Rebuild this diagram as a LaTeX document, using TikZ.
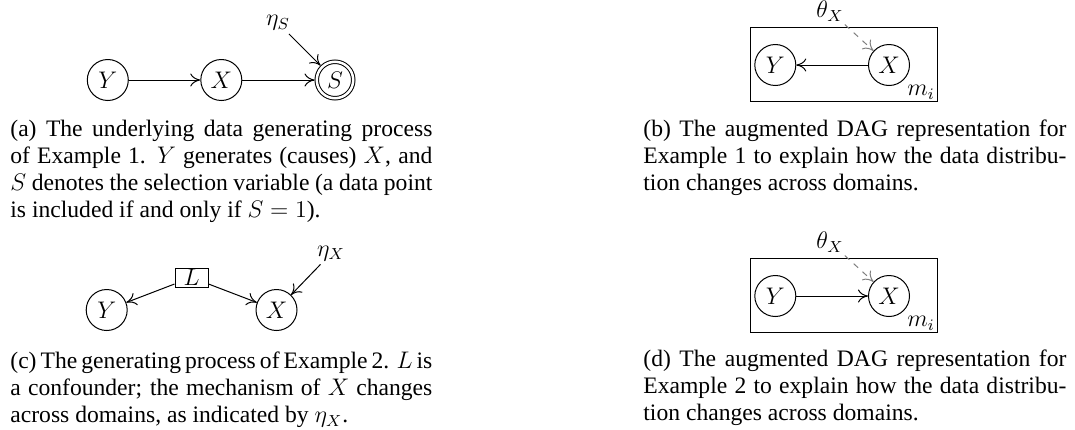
\documentclass[tikz,border=0pt]{standalone}
\usepackage{fontspec}
\setmainfont{Liberation Serif}
\usetikzlibrary{arrows.meta}
\begin{document}
\begin{tikzpicture}[x=0.5pt,y=-0.5pt,
  var/.style={circle,draw,line width=0.5pt,minimum size=20.5pt,inner sep=0pt,font=\fontsize{12}{14}\selectfont},
  lbl/.style={inner sep=1.5pt,font=\fontsize{12}{14}\selectfont},
  plate/.style={draw,line width=0.5pt,minimum width=93.5pt,minimum height=37.2pt,inner sep=0pt},
  edge/.style={-{To[length=5pt,width=6.5pt]},line width=0.5pt},
  dedge/.style={edge,gray,dashed},
  captxt/.style={anchor=base west,inner sep=0pt,font=\fontsize{11.8}{14}\selectfont},
]
\useasboundingbox (0,0) rectangle (1075,429);
% (a)
\node[var] (Ya) at (107.8,80) {$Y$};
\node[var] (Xa) at (221.3,80) {$X$};
\node[var,double,double distance=1.25pt,minimum size=18.25pt,outer sep=1.1pt] (Sa) at (335,80) {$S$};
\node[lbl] (etaS) at (278,23) {$\eta_S$};
\draw[edge] (Ya) -- (Xa);
\draw[edge] (Xa) -- (Sa);
\draw[edge] (etaS) -- (Sa);
% (b)
\node[plate] (plateB) at (843.5,64.5) {};
\node[var] (Yb) at (775.3,65) {$Y$};
\node[var] (Xb) at (889,65) {$X$};
\node[lbl] (thB) at (830,11) {$\theta_X$};
\node[lbl,anchor=base west,inner sep=0pt] (mB) at (907,95.5) {$m_i$};
\draw[edge] (Xb) -- (Yb);
\draw[dedge] (thB) -- (Xb);
% (c)
\node[var] (Yc) at (106.7,310) {$Y$};
\node[var] (Xc) at (276.5,310) {$X$};
\node[draw,line width=0.5pt,minimum width=16.5pt,minimum height=9.5pt,inner sep=0pt,font=\fontsize{12}{14}\selectfont] (Lc) at (191.5,277.5) {$L$};
\node[lbl] (etaX) at (331,253.5) {$\eta_X$};
\draw[edge] (Lc) -- (Yc);
\draw[edge] (Lc) -- (Xc);
\draw[edge] (etaX) -- (Xc);
% (d)
\node[plate] (plateD) at (843.5,295.5) {};
\node[var] (Yd) at (775.3,296) {$Y$};
\node[var] (Xd) at (889,296) {$X$};
\node[lbl] (thD) at (830,242) {$\theta_X$};
\node[lbl,anchor=base west,inner sep=0pt] (mD) at (907,326.5) {$m_i$};
\draw[edge] (Yd) -- (Xd);
\draw[dedge] (thD) -- (Xd);
% captions
\node[captxt] (ca1) at (10,136.7) {\makebox[211pt][s]{(a) The underlying data generating process}};
\node[captxt] (ca2) at (10,163.6) {\makebox[211pt][s]{of Example 1. $Y$ generates (causes) $X$, and}};
\node[captxt] (ca3) at (10,190.5) {\makebox[211pt][s]{$S$ denotes the selection variable (a data point}};
\node[captxt] (ca4) at (10,217.4) {is included if and only if $S=1$).};
\node[captxt] (cb1) at (643,136.7) {\makebox[211.5pt][s]{(b) The augmented DAG representation for}};
\node[captxt] (cb2) at (643,163.6) {\makebox[211.5pt][s]{Example 1 to explain how the data distribu-}};
\node[captxt] (cb3) at (643,190.5) {tion changes across domains.};
\node[captxt] (cc1) at (10,368.5) {\makebox[211pt][s]{(c) The generating process of Example 2. $L$ is}};
\node[captxt] (cc2) at (10,395.5) {\makebox[211pt][s]{a confounder; the mechanism of $X$ changes}};
\node[captxt] (cc3) at (10,422.5) {across domains, as indicated by $\eta_X$.};
\node[captxt] (cd1) at (643,366) {\makebox[211.5pt][s]{(d) The augmented DAG representation for}};
\node[captxt] (cd2) at (643,393) {\makebox[211.5pt][s]{Example 2 to explain how the data distribu-}};
\node[captxt] (cd3) at (643,420) {tion changes across domains.};
\end{tikzpicture}
\end{document}
